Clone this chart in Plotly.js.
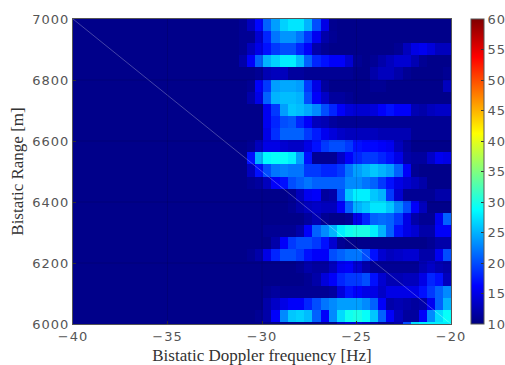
<!DOCTYPE html>
<html><head><meta charset="utf-8">
<script src="https://cdn.plot.ly/plotly-3.0.1.min.js"></script>
<style>html,body{margin:0;padding:0;background:#fff;overflow:hidden}
#c{width:505px;height:365px;overflow:hidden}
#c .xtick text,#c .ytick text,#c .cbaxis text{letter-spacing:1px}</style></head>
<body><div id="c"></div>
<script>
// Power in dB per cell, rows from 7000 m downward, columns k=20..45 (active Doppler region)
const activeRows = [
[11,13,16.5,21,24,26.5,27.5,27.5,25,20,15,10.8,10.5,10.5,10.5,10.5,10.5,10.5,10.5,10.5,10.5,10.5,10.5,10.5,10.5,10.5],
[11,11,14,18,22,23.5,23.5,22,19,15.5,12,11,10.5,10.5,10.5,10.5,10.5,10.5,10.5,10.5,10.5,10.5,10.5,10.5,10.5,10.5],
[11,13,15,17,19,20,20,18,16,12,11,10.5,10.5,10.5,10.5,10.5,10.5,10.5,10.5,11,13,15,15.5,14.5,13,13],
[12,16,21,25,26.5,28,28,25.5,21,18,17,16,16,14,11,10.5,11,12,13,14,14,12.5,11,10.5,10.5,10.5],
[10.5,10.5,11,12.5,13,13,11.5,11.5,11,11,11,11,11,11,10.5,10.5,12,13,13,12,11,10.5,10.5,10.5,10.5,11],
[10.5,11,16,19,24,24.5,24.5,24,19,15,11.5,10.5,10.5,10.5,10.5,10.5,11,11,10.5,10.5,10.5,10.5,10.5,10.5,10.5,13],
[10.5,12,15,21,25,25.5,25.5,25,20,16,13.5,11.5,11.5,11,10.5,10.5,10.5,10.5,10.5,10.5,10.5,10.5,10.5,10.5,10.5,10.5],
[10.5,10.5,10.5,15.5,19,24,26,25.5,24.5,23,20,18,16,14.5,14,14,14.5,16,17,16,16,12.5,12,13,13.5,13.5],
[10.5,10.5,10.5,15.5,18,20,20.5,18,16,13,12.5,11.5,11,11,11,11,11,11,11,11,11,11,11,11,11,11],
[10.5,10.5,10.5,15,18.5,21,21,21,19,17.5,15.5,14.5,13.5,13,13,13,13,12.5,12.5,12.5,12.5,11,11,11,11,11],
[10.5,11,13,15,15,14,13.5,13.5,15,17,19,20,20,19,17,16.5,16.5,16,15.5,13,11.5,10.5,10.5,10.5,10.5,10.5],
[10.5,17,25,28.5,29,29,28,24,17,11,11,11,13.5,16,18,19,19,18,17,15,12,11.5,11.5,13.5,15.5,15],
[10.5,13,17,20,22,22.5,22,22,19,19,18,18,19,22,24,25,26,25,24,21,16,11,10.5,10.5,10.5,10.5],
[10.5,11,11.5,13,16,17,20,21,22,21,21,21,21,23,23,22,21,19,17,15,14,13,12,10.5,10.5,10.5],
[10.5,10.5,10.5,10.5,10.5,10.5,11,13,15.5,16,11.5,12,20,26,28,28,26,25,19,14,11,11,11,11,12,12],
[10.5,10.5,10.5,10.5,10.5,10.5,11,12,13,13.5,13,13,16,21,25,26,27.5,27.5,26,23,20,16,13,10.5,10.5,10.5],
[10.5,10.5,10.5,10.5,10.5,10.5,10.5,10.5,11.5,12.5,11,10.5,10.5,11,15,18,21,21.5,21,19,15,12,11,11,15.5,21],
[10.5,10.5,10.5,11,11,11,11,12,16,21,23,25,28,29.5,30,30,28,25,21,17,15,14,12,12,16,16],
[10.5,10.5,10.5,10.5,12,16,19,20,20,19,17,14,11,10.5,10.5,10.5,10.5,10.5,10.5,10.5,10.5,10.5,10.5,11,12,12],
[10.5,11,12,15,18,20,20,19,17,16,16,20,21,22,22,20,17,14,13,13.5,14,14,12,12,15.5,20],
[10.5,10.5,10.5,10.5,10.5,10.5,10.5,11,12,11.5,11.5,13,15.5,16,14,12,11,11,11,11,11,11,12.5,13.5,12.5,12],
[10.5,10.5,10.5,10.5,10.5,10.5,10.5,10.5,11,12,14.5,16,18,19,19,20,17,14,12.5,12.5,13,13,15,18,17,13],
[10.5,10.5,10.5,11,11.5,11,11,11,11,11,11,11.5,14.5,17,16,15,15,13.5,15,15,15,15,17,19,21,23],
[10.5,10.5,10.5,12,13.5,15,16,16,18,20,22,23,24,24,24,23,21,16,12,12.5,12,11.5,12,15.5,21,25],
[10.5,10.5,11,12,16,23,26,26.5,25.5,21,16,23,27,29.5,30,29,26,21,16,13,11.5,11.5,16,23,27,29],
[10.5,10.5,10.5,10.5,10.5,10.5,10.5,10.5,10.5,10.5,10.5,10.5,13,14,14,13,12,11,11,12,20,27,28,28,28,28]
];
const floorLevel = 10.5;
const floorColumns = 21;
const firstColumnCentre = -40.117;
const columnStep = 0.4339;
const firstRowCentre = 6980.15;
const rowStep = -39.7;
const xTicks = [-40,-35,-30,-25,-20];
const xTickLabels = ['\u221240','\u221235','\u221230','\u221225','\u221220'];
const yTicks = [6000,6200,6400,6600,6800,7000];
const cbTicks = [10,15,20,25,30,35,40,45,50,55,60];
const xTitle = 'Bistatic Doppler frequency [Hz]';
const yTitle = 'Bistatic Range [m]';
const diagX = [-40,-20];
const diagY = [7000,6000];

const z = activeRows.map(r => new Array(floorColumns).fill(floorLevel).concat(r));
const jet = [[0,'rgb(0,0,128)'],[0.125,'rgb(0,0,255)'],[0.375,'rgb(0,255,255)'],[0.625,'rgb(255,255,0)'],[0.875,'rgb(255,0,0)'],[1,'rgb(128,0,0)']];
const tickFont = {family:'"DejaVu Sans",sans-serif',size:13,color:'#555'};
const titleFont = {family:'"Liberation Serif","DejaVu Serif",serif',size:17,color:'#333'};
const gridShapes = xTicks.slice(1,-1).map(v=>({type:'line',xref:'x',yref:'paper',x0:v,x1:v,y0:0,y1:1,line:{color:'rgba(0,0,0,0.12)',width:1}}))
 .concat(yTicks.slice(1,-1).map(v=>({type:'line',xref:'x domain',yref:'y',x0:0,x1:1,y0:v,y1:v,line:{color:'rgba(0,0,0,0.12)',width:1}})));

Plotly.newPlot('c',[
 {type:'heatmap',z:z,x0:firstColumnCentre,dx:columnStep,y0:firstRowCentre,dy:rowStep,zmin:10,zmax:60,zsmooth:false,colorscale:jet,hoverinfo:'skip',
  colorbar:{x:0.9005,xanchor:'left',xpad:0,ypad:0,y:0,yanchor:'bottom',len:1,thickness:13,thicknessmode:'pixels',outlinecolor:'#555',outlinewidth:1,
    tickvals:cbTicks,ticks:'inside',ticklen:3,tickcolor:'#333',tickfont:tickFont}},
 {type:'scatter',mode:'lines',x:diagX,y:diagY,line:{color:'rgba(255,255,255,0.45)',width:0.6},hoverinfo:'skip',showlegend:false}
],{
 width:525,height:365,margin:{l:73,r:10,t:18.5,b:41,pad:0},paper_bgcolor:'#fff',plot_bgcolor:'#00008c',showlegend:false,
 xaxis:{domain:[0,0.8552],range:[-40,-20],tickvals:xTicks,ticktext:xTickLabels,ticks:'inside',ticklen:3,tickcolor:'#333',mirror:true,showline:true,linecolor:'#555',linewidth:1,showgrid:false,zeroline:false,tickfont:tickFont,
   title:{text:xTitle,font:titleFont,standoff:7}},
 yaxis:{range:[6000,7000],tickvals:yTicks,ticks:'inside',ticklen:3,tickcolor:'#333',mirror:true,showline:true,linecolor:'#555',linewidth:1,showgrid:false,zeroline:false,tickfont:tickFont,
   tickformat:'d',title:{text:yTitle,font:titleFont,standoff:8}},
 shapes:gridShapes
},{displayModeBar:false,staticPlot:true});
</script></body></html>
